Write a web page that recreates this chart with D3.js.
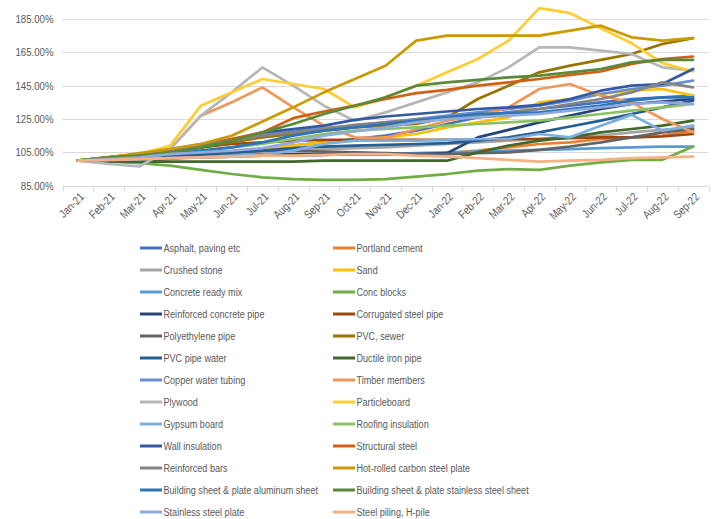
<!DOCTYPE html>
<html>
<head>
<meta charset="utf-8">
<script src="https://cdn.jsdelivr.net/npm/d3@7"></script>
<style>
  html, body { margin: 0; padding: 0; background: #fff; }
  svg { display: block; }
  text { font-family: "Liberation Sans", Arial, sans-serif; fill: #595959; }
</style>
</head>
<body>
<svg id="chart" width="715" height="519"></svg>
<script>
// ---------- DATA ----------
const months = ["Jan-21","Feb-21","Mar-21","Apr-21","May-21","Jun-21","Jul-21","Aug-21","Sep-21","Oct-21","Nov-21","Dec-21",
                "Jan-22","Feb-22","Mar-22","Apr-22","May-22","Jun-22","Jul-22","Aug-22","Sep-22"];
const yTicks = [85, 105, 125, 145, 165, 185];

const seriesNames = [
  "Asphalt, paving etc","Portland cement","Crushed stone","Sand","Concrete ready mix","Conc blocks",
  "Reinforced concrete pipe","Corrugated steel pipe","Polyethylene pipe","PVC, sewer","PVC pipe water","Ductile iron pipe",
  "Copper water tubing","Timber members","Plywood","Particleboard","Gypsum board","Roofing insulation",
  "Wall insulation","Structural steel","Reinforced bars","Hot-rolled carbon steel plate",
  "Building sheet & plate aluminum sheet","Building sheet & plate stainless steel sheet","Stainless steel plate","Steel piling, H-pile"
];
const seriesColors = [
  "#4472C4","#ED7D31","#A5A5A5","#FFC000","#5B9BD5","#70AD47",
  "#264478","#9E480E","#636363","#997300","#255E91","#43682B",
  "#698ED0","#F1975A","#B7B7B7","#FFCD33","#7CAFDD","#8CC168",
  "#335AA1","#D26012","#848484","#CC9A00","#2E75B6","#5A8A39","#8FAADC","#F4B183"
];

// index values (% of Jan-21)
const asphalt        = [100,101,102,103,104,105,107,109,111,113,115,118,122,126,129,131,133,135,137,138,139];
const portlandCement = [100,100.5,101,101.5,102,102.5,103,103,103.5,104,104,104,104.5,106,108,110,111,113,114,115,118];
const crushedStone   = [100,100.5,101,102,103,104,105,106,107,107.5,108,109,110,111,112,113,114,115,117,118.5,120];
const sand           = [100,101,102,103,104,105,107,109,111,112,114,116,120,123,126,135,137,140,142,143,139];
const concreteMix    = [100,100.5,101,101.5,102,102.5,103,103,103.5,104,104,104.5,105,105.5,106,106.5,107,107.5,108,108.5,108.5];
const concBlocks     = [100,99.5,98.5,97,94.5,92,90,89,88.5,88.5,89,90.5,92,94,95,94.5,97,99,100.5,100.5,108.5];
const rcPipe         = [100,100.5,101,102,102.5,103,103.5,104,104,104,104,104,104.5,114,118.5,123,127,131,134,135.5,137];
const corrugatedPipe = [100,102,104,106,108,110,111,112,112.5,112.5,112.5,112.5,112.5,112.5,113,113,113.5,114,114,114.5,116];
const polyPipe       = [100,99.5,99.5,101,103,105,106,106,105.5,105,104.5,104,104,104.5,105,106.5,108.5,111,114,117,119];
const pvcSewer       = [100,102,104,106,108,111,114,116,118,120,121,122,126,137,145,153,157,160.5,164,170,173.5];
const pvcWater       = [100,101,102,103,104,105,106,107.5,108.5,109,109.5,110,110.5,112,114,117,120.5,124,128,132,136];
const ductileIron    = [100,100,99.5,99.5,99.5,99.5,99.5,99.5,100,100,100,100,100,105,109,112,114,117,119,121,124];
const copperTubing   = [100,102,104,107,110,113,116,118,119.5,121,123,125,127,129,131,133,136,140,143,145,148];
const timber         = [100,102,104,107,127,135,144,132,121,114,113.5,119,124,127,132,143,146,139,135,125,117];
const plywood        = [100,98,96.5,107,127,141,156,145,133,124,129,135,141,147,156,168,168,166,164,156,154];
const particleboard  = [100,102,104,109,133,141,149,146,143,132,138,145,153,161,172,191.5,188.5,179.5,170.5,158.5,153.5];
const gypsum         = [100,100.5,101,101.5,102,103,103.5,106,110,112,112,112,112.5,113,113,116,114,121,127.5,118,121];
const roofing        = [100,101,102,104,106,108,110,113,116,118,119,120,121,122,123,124,126,128,130,132,134];
const wallInsulation = [100,101,103,105,108,112,117,119,121,124.5,126.5,128,129.5,131,132,133.5,137,142,145,146,155];
const structSteel    = [100,102,104,106,109,113,117,125.5,129.5,133,137,140.5,142.5,145,147,149,151.5,153.5,158,161,162.5];
const rebar          = [100,102,103.5,106,109,112,115,117,119,121.5,123,124.5,126,127,129,131,134,137,141,147,144];
const hotRolled      = [100,102,104.5,107,110,115,123.5,132,141,149,157,172,175,175,175,175,178,181,174,172,173.5];
const aluminumSheet  = [100,101,102,104,106,108,111,115,118,120,122,124,126,128,128.5,129,131,133,136,138,138];
const stainlessSheet = [100,102,103,105,108,112,117,122,128,133,138,145,147,148.5,150,151,153,155,159,160.5,160.5];
const stainlessPlate = [100,101,102,104,105,106,107.5,111,115,117.5,120,123,125,126,127,128,130,132,134,135,134];
const steelPiling    = [100,100.5,101,101.5,102,102.5,103,103,103.5,104,104,103,102.5,101.5,100.5,99.5,100,100.5,101.5,102,102.5];

const seriesValues = [asphalt, portlandCement, crushedStone, sand, concreteMix, concBlocks,
  rcPipe, corrugatedPipe, polyPipe, pvcSewer, pvcWater, ductileIron,
  copperTubing, timber, plywood, particleboard, gypsum, roofing,
  wallInsulation, structSteel, rebar, hotRolled, aluminumSheet, stainlessSheet, stainlessPlate, steelPiling];

const series = seriesNames.map((name, i) => ({ name, color: seriesColors[i], values: seriesValues[i] }));

// ---------- LAYOUT ----------
const plot = { left: 62.5, right: 708.5, top: 19, bottom: 185.7 };
const fontSize = "11.5px";
const narrowAxis = 0.84;   // horizontal condensing to mimic Calibri widths
const narrowLegend = 0.79;
const svg = d3.select("#chart");

const x = d3.scaleBand().domain(months).range([plot.left, plot.right]);
const y = d3.scaleLinear().domain([85, 185]).range([plot.bottom, plot.top]);
const cx = m => x(m) + x.bandwidth() / 2;

// gridlines
svg.append("g").selectAll("line").data(yTicks.slice(1)).join("line")
  .attr("x1", plot.left).attr("x2", plot.right)
  .attr("y1", d => Math.round(y(d)) + 0.5).attr("y2", d => Math.round(y(d)) + 0.5)
  .attr("stroke", "#d9d9d9").attr("stroke-width", 1);

// y labels
const yfmt = d => d3.format(".2f")(d) + "%";
svg.append("g").selectAll("text").data(yTicks).join("text")
  .attr("transform", d => `translate(${plot.left - 9},${y(d)}) scale(${narrowAxis},1)`)
  .attr("text-anchor", "end").attr("dy", "0.35em")
  .attr("font-size", fontSize)
  .text(yfmt);

// x axis
const xAxis = d3.axisBottom(x).tickSize(0).tickFormat("");
const gx = svg.append("g").attr("transform", `translate(0,${Math.round(plot.bottom) + 0.5})`).call(xAxis);
gx.select(".domain").attr("stroke", "#d9d9d9").attr("d", `M${plot.left},0H${plot.right}`);
const bounds = d3.range(months.length + 1).map(i => plot.left + i * x.step());
gx.selectAll(".tickmark").data(bounds).join("line").attr("class", "tickmark")
  .attr("x1", d => Math.round(d) + 0.5).attr("x2", d => Math.round(d) + 0.5)
  .attr("y1", 0).attr("y2", 5).attr("stroke", "#d9d9d9");

svg.append("g").selectAll("text").data(months).join("text")
  .attr("transform", d => `translate(${cx(d) + 4},${plot.bottom + 9}) rotate(-45) scale(${narrowAxis},1)`)
  .attr("text-anchor", "end").attr("dy", "0.35em")
  .attr("font-size", fontSize)
  .text(d => d);

// lines
const line = d3.line().x((d, i) => cx(months[i])).y(d => y(d));
svg.append("g").selectAll("path").data(series).join("path")
  .attr("d", s => line(s.values))
  .attr("fill", "none").attr("stroke", s => s.color)
  .attr("stroke-width", 2.7).attr("stroke-linejoin", "round").attr("stroke-linecap", "round");

// legend
const legCols = [140, 333];
const legTop = 248, legStep = 22;
const lg = svg.append("g").selectAll("g").data(series).join("g")
  .attr("transform", (s, i) => `translate(${legCols[i % 2]},${legTop + Math.floor(i / 2) * legStep})`);
lg.append("line").attr("x1", 0).attr("x2", 22).attr("y1", 0).attr("y2", 0)
  .attr("stroke", s => s.color).attr("stroke-width", 3);
lg.append("text").attr("transform", `translate(23.5,0) scale(${narrowLegend},1)`).attr("dy", "0.35em")
  .attr("font-size", fontSize).text(s => s.name);
</script>
</body>
</html>
